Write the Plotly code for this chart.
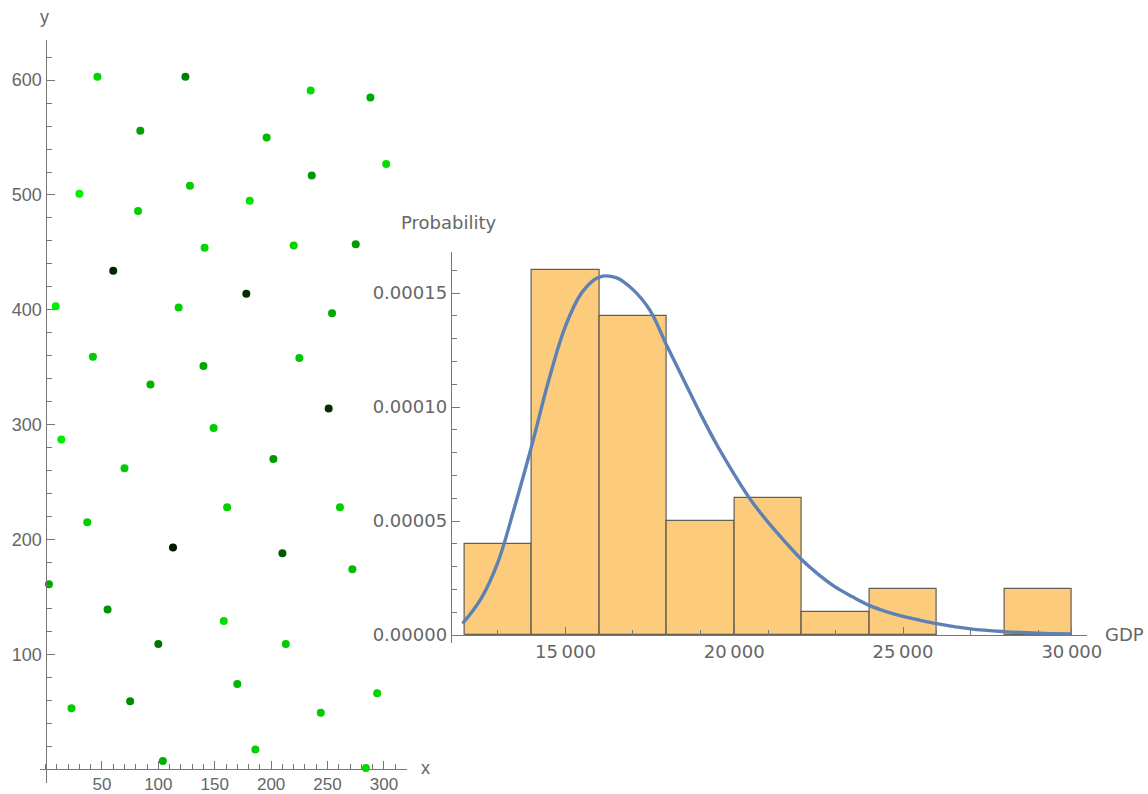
import plotly.graph_objects as go

# ---------------- scatter data ----------------
pts_x = [46, 124, 235, 288, 84, 196, 302, 236, 30, 128, 82, 181, 141, 220, 275, 60,
         178, 9, 118, 254, 42, 225, 140, 93, 251, 149, 14, 202, 70, 161, 261, 37,
         113, 210, 272, 3, 55, 158, 100, 213, 170, 294, 23, 75, 244, 186, 104, 284]
pts_y = [603, 603, 591, 585, 556, 550, 527, 517, 501, 508, 486, 495, 454, 456, 457, 434,
         414, 403, 402, 397, 359, 358, 351, 335, 314, 297, 287, 270, 262, 228, 228, 215,
         193, 188, 174, 161, 139, 129, 109, 109, 74, 66, 53, 59, 49, 17, 7, 1]
pts_color = ["#00d400", "#008000", "#00dd00", "#00a800", "#00a000", "#00bb00", "#00e000", "#009800",
             "#00f000", "#00cc00", "#00d000", "#00e000", "#00d800", "#00d400", "#009c00", "#002800",
             "#003000", "#00ee00", "#00d000", "#00aa00", "#00cc00", "#00c800", "#00a800", "#00b400",
             "#003000", "#00cc00", "#00ee00", "#009800", "#00cc00", "#00d400", "#00d000", "#00d000",
             "#001800", "#005800", "#00bc00", "#00a800", "#009400", "#00dc00", "#007800", "#00cc00",
             "#00b800", "#00d400", "#00cc00", "#008c00", "#00cc00", "#00d000", "#00b000", "#00d800"]
scatter_xticks = [50, 100, 150, 200, 250, 300]
scatter_yticks = [100, 200, 300, 400, 500, 600]

# ---------------- histogram data ----------------
bin_edges = [12000, 14000, 16000, 18000, 20000, 22000, 24000, 26000, 28000, 30000]
densities = [0.00004, 0.00016, 0.00014, 0.00005, 0.00006, 0.00001, 0.00002, 0.0, 0.00002]

# fitted density curve (values in units of 1e-6)
curve_x = [11950, 12500, 13000, 13500, 14000, 14500, 15000, 15500, 16000, 16500,
           17000, 17500, 18000, 18500, 19000, 19500, 20000, 20500, 21000, 21500, 22000,
           22500, 23000, 23500, 24000, 24500, 25000, 25500, 26000, 27000, 28000, 29000, 30000]
curve_y_e6 = [5.0, 16.0, 32.0, 56.5, 83.0, 111.5, 135.5, 150.5, 157.0, 156.8,
              151.5, 142.5, 127.0, 112.0, 97.0, 83.0, 70.5, 59.0, 49.5, 41.0, 33.0,
              26.5, 21.0, 16.8, 13.0, 10.3, 8.2, 6.5, 5.0, 2.7, 1.5, 0.8, 0.45]
hist_xticks = [15000, 20000, 25000, 30000]
hist_xtick_text = ["15\u2009000", "20\u2009000", "25\u2009000", "30\u2009000"]
hist_yticks = [0.0, 0.00005, 0.00010, 0.00015]
hist_ytick_text = ["0.00000", "0.00005", "0.00010", "0.00015"]

# ---------------- build figure ----------------
W, H = 1148, 794
def px(x):
    return x / W
def py(y):
    return 1 - y / H

FONT = "Liberation Sans, Arial, sans-serif"
FONT2 = "DejaVu Sans, Verdana, sans-serif"
TXT = "#666666"
AX = "#777777"

fig = go.Figure()

fig.add_trace(go.Scatter(
    x=pts_x, y=pts_y, mode="markers",
    marker=dict(size=8, color=pts_color, line=dict(width=0)),
    xaxis="x", yaxis="y", showlegend=False, hoverinfo="x+y"))

centers = []
heights = []
for i, d in enumerate(densities):
    if d > 0:
        centers.append((bin_edges[i] + bin_edges[i + 1]) / 2)
        heights.append(d)
widths = [bin_edges[1] - bin_edges[0]] * len(centers)

fig.add_trace(go.Bar(
    x=centers, y=heights, width=widths,
    marker=dict(color="#FCCC7C", line=dict(color="rgba(70,70,70,0.85)", width=1.2)),
    xaxis="x2", yaxis="y2", showlegend=False))

fig.add_trace(go.Scatter(
    x=curve_x, y=[v * 1e-6 for v in curve_y_e6], mode="lines",
    line=dict(color="#5E81B5", width=3.4, shape="spline", smoothing=1.0),
    xaxis="x2", yaxis="y2", showlegend=False))

common = dict(showgrid=False, zeroline=False, showline=True, linecolor=AX, linewidth=1,
              ticks="inside", tickcolor=AX, tickwidth=1, ticklen=8, automargin=False)

fig.update_layout(
    autosize=True,
    margin=dict(l=0, r=0, t=0, b=0, pad=0, autoexpand=False),
    paper_bgcolor="white", plot_bgcolor="rgba(0,0,0,0)",
    bargap=0,
    xaxis=dict(domain=[px(39.9), px(406.5)], range=[-5, 320], anchor="free", position=py(769),
               tickvals=scatter_xticks, tickfont=dict(family=FONT, size=17, color=TXT),
               minor=dict(dtick=10, tick0=0, ticks="inside", ticklen=5, tickcolor=AX, showgrid=False),
               **common),
    yaxis=dict(domain=[py(782.8), py(40)], range=[-12, 635], anchor="free", position=px(45.5),
               tickvals=scatter_yticks, tickfont=dict(family=FONT, size=18, color=TXT),
               minor=dict(dtick=20, tick0=0, ticks="inside", ticklen=5, tickcolor=AX, showgrid=False),
               **common),
    xaxis2=dict(domain=[px(450.7), px(1087)], range=[11600, 30450], anchor="free", position=py(635),
                tickvals=hist_xticks, ticktext=hist_xtick_text,
                tickfont=dict(family=FONT2, size=18, color=TXT),
                minor=dict(dtick=1000, tick0=0, ticks="inside", ticklen=5, tickcolor=AX, showgrid=False),
                **common),
    yaxis2=dict(domain=[py(643), py(252)], range=[-3.5e-6, 1.68e-4], anchor="free", position=px(450.7),
                tickvals=hist_yticks, ticktext=hist_ytick_text,
                tickfont=dict(family=FONT2, size=18, color=TXT),
                minor=dict(dtick=1e-5, tick0=0, ticks="inside", ticklen=5, tickcolor=AX, showgrid=False),
                **common),
    annotations=[
        dict(text="y", x=px(44), y=py(17), xref="paper", yref="paper", showarrow=False,
             xanchor="center", yanchor="middle", font=dict(family=FONT, size=18, color=TXT)),
        dict(text="x", x=px(425), y=py(768), xref="paper", yref="paper", showarrow=False,
             xanchor="center", yanchor="middle", font=dict(family=FONT, size=18, color=TXT)),
        dict(text="Probability", x=px(448), y=py(222), xref="paper", yref="paper", showarrow=False,
             xanchor="center", yanchor="middle", font=dict(family=FONT2, size=18, color=TXT)),
        dict(text="GDP", x=px(1124), y=py(634), xref="paper", yref="paper", showarrow=False,
             xanchor="center", yanchor="middle", font=dict(family=FONT2, size=18, color=TXT)),
    ],
)

fig.write_html("out.html",
               config={"displayModeBar": False, "responsive": True},
               default_width="100vw", default_height="100vh",
               post_script="document.documentElement.style.overflow='hidden';"
                           "document.body.style.margin='0px';document.body.style.overflow='hidden';"
                           "window.dispatchEvent(new Event('resize'));")
